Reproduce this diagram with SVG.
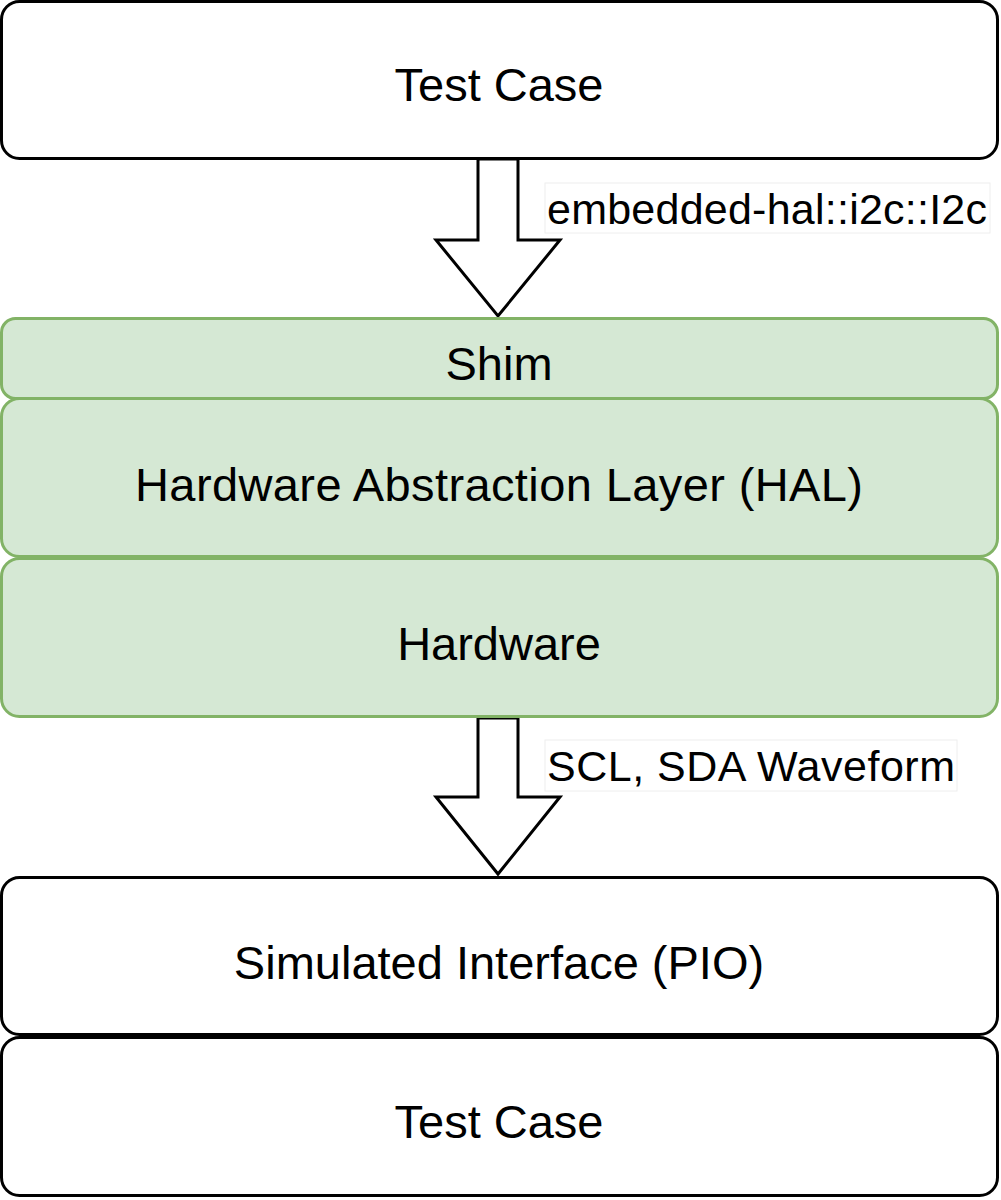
<svg xmlns="http://www.w3.org/2000/svg" width="1001" height="1200" viewBox="0 0 1001 1200">
<style>
.w{fill:#fff;stroke:#000;stroke-width:3}
.g{fill:#d5e8d4;stroke:#82b366;stroke-width:3}
.t{font-family:"Liberation Sans",Arial,sans-serif;font-size:47px;fill:#000;text-anchor:middle}
.l{font-family:"Liberation Sans",Arial,sans-serif;font-size:43px;fill:#000}
.lb{fill:#fff;stroke:#eee;stroke-width:1}
.a{fill:#fff;stroke:#000;stroke-width:3;stroke-linejoin:miter}
</style>
<rect width="1001" height="1200" fill="#fff"/>
<g id="connectors">
<path class="a" d="M478,159 L518,159 L518,240 L560,240 L498,316 L436,240 L478,240 Z"/>
<rect class="lb" x="545" y="183" width="445" height="50"/>
<text class="l" x="547" y="224" textLength="440">embedded-hal::i2c::I2c</text>
<path class="a" d="M478,718 L518,718 L518,797 L560,797 L498,874 L436,797 L478,797 Z"/>
<rect class="lb" x="545" y="740" width="412" height="51"/>
<text class="l" x="547" y="781" textLength="408">SCL, SDA Waveform</text>
</g>
<g id="tc1"><rect class="w" x="1.5" y="1.5" width="996" height="157" rx="18"/><text class="t" x="499" y="101">Test Case</text></g>
<g id="shim"><rect class="g" x="1.5" y="318.5" width="996" height="80" rx="14"/><text class="t" x="499" y="380">Shim</text></g>
<g id="hal"><rect class="g" x="1.5" y="398.5" width="996" height="158" rx="18"/><text class="t" x="499" y="501" textLength="728">Hardware Abstraction Layer (HAL)</text></g>
<g id="hw"><rect class="g" x="1.5" y="558.5" width="996" height="158" rx="18"/><text class="t" x="499" y="660">Hardware</text></g>
<g id="sim"><rect class="w" x="1.5" y="877.5" width="996" height="157" rx="18"/><text class="t" x="499" y="979">Simulated Interface (PIO)</text></g>
<g id="tc2"><rect class="w" x="1.5" y="1037.5" width="996" height="158" rx="18"/><text class="t" x="499" y="1138">Test Case</text></g>
</svg>
